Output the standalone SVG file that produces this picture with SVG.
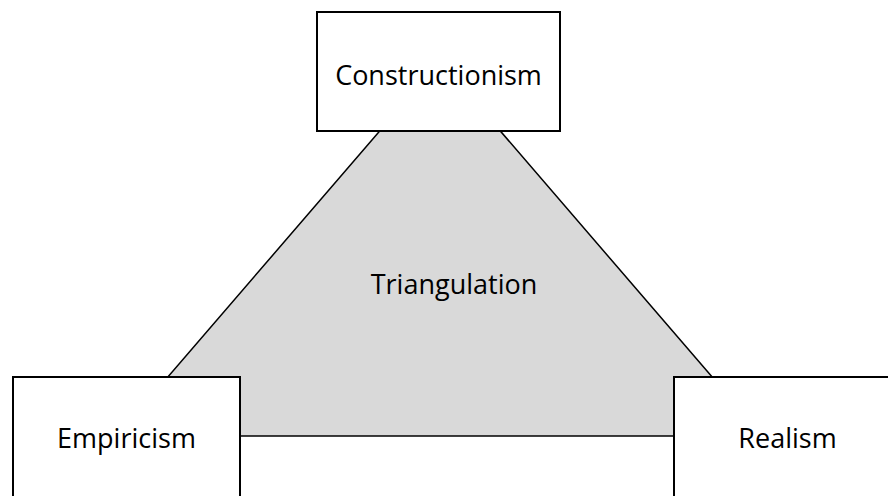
<svg xmlns="http://www.w3.org/2000/svg" width="888" height="496" viewBox="0 0 888 496">
<style>
.box{fill:#fff;stroke:#000;stroke-width:2}
.lbl{font-family:"Open Sans","Liberation Sans",sans-serif;font-size:27px;fill:#000;text-anchor:middle}
</style>
<rect width="888" height="496" fill="#fff"/>
<g id="connectors">
<polygon points="440,61 117,436 763,436" fill="#d9d9d9" stroke="#000" stroke-width="1.5"/>
</g>
<g id="triangulation">
<text class="lbl" x="454" y="294">Triangulation</text>
</g>
<g id="constructionism">
<rect class="box" x="317" y="12" width="243" height="119"/>
<text class="lbl" x="438.5" y="85">Constructionism</text>
</g>
<g id="empiricism">
<rect class="box" x="13" y="377" width="227" height="130"/>
<text class="lbl" x="126.5" y="448">Empiricism</text>
</g>
<g id="realism">
<rect class="box" x="674" y="377" width="227" height="130"/>
<text class="lbl" x="787.5" y="448">Realism</text>
</g>
</svg>
